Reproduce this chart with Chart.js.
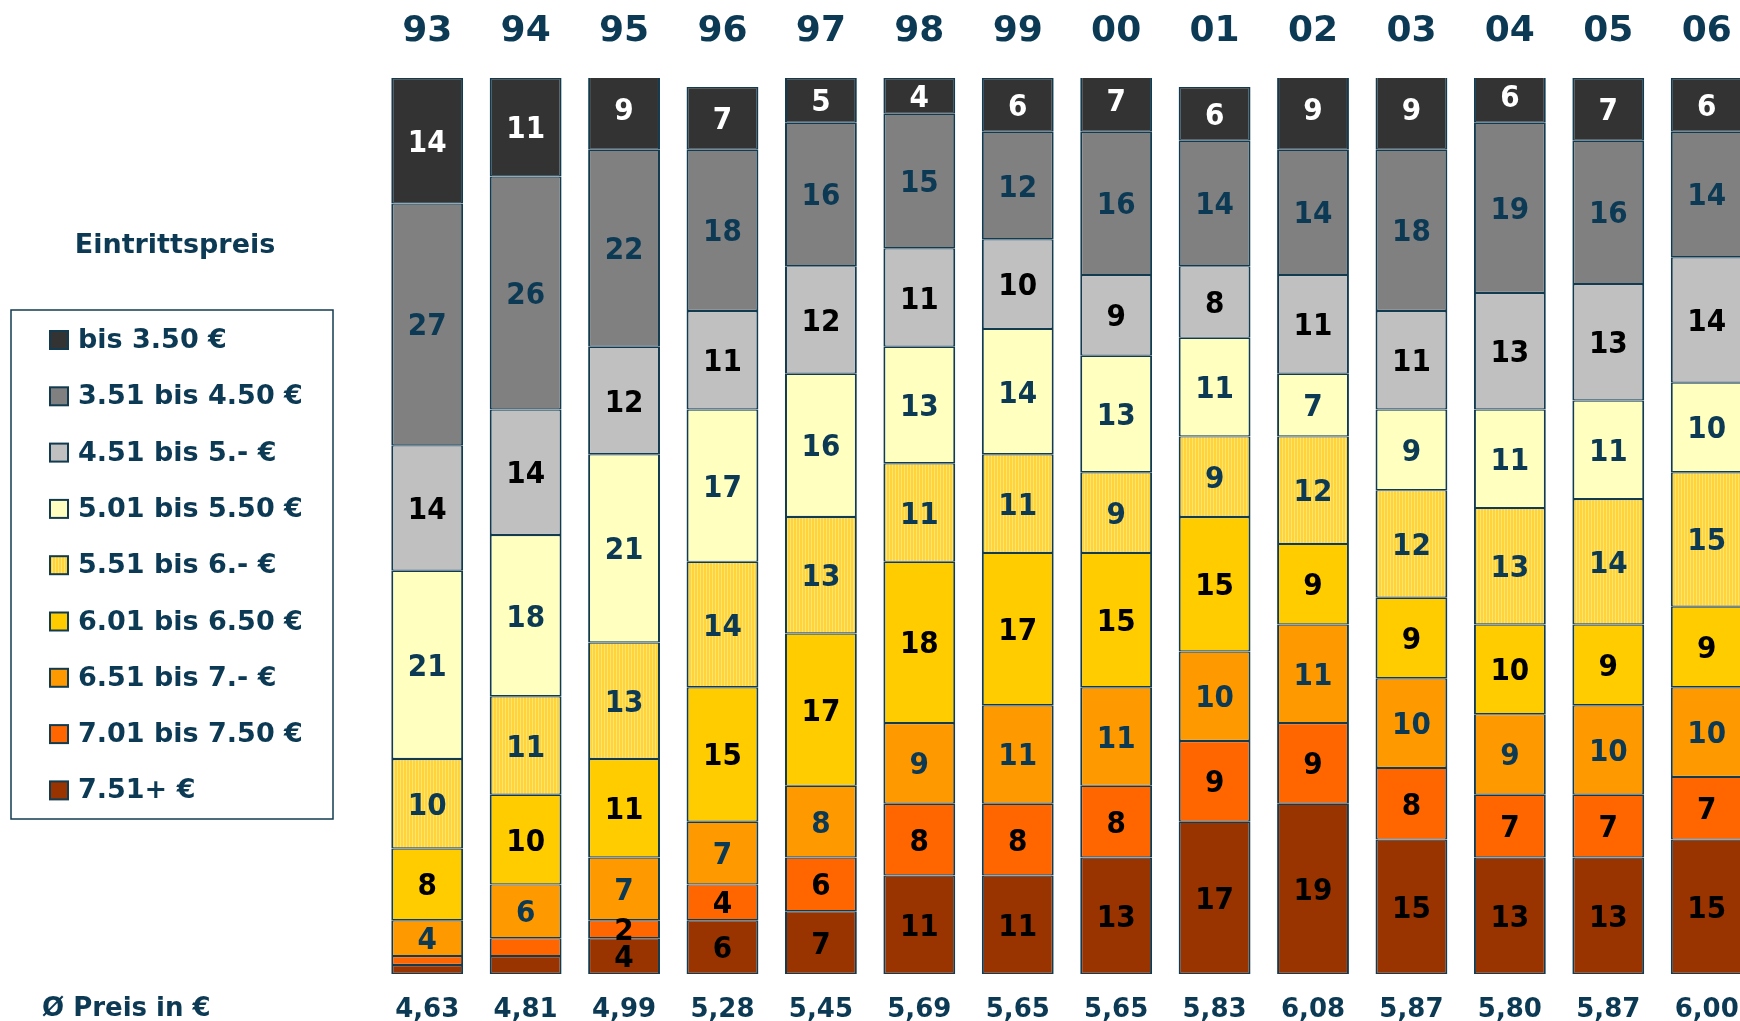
<!DOCTYPE html>
<html>
<head>
<meta charset="utf-8">
<title>Eintrittspreis</title>
<script src="https://cdn.jsdelivr.net/npm/chart.js@4.4.1/dist/chart.umd.min.js"></script>
<style>
  html, body { margin: 0; padding: 0; background: #fff; overflow: hidden; }
  canvas { display: block; }
</style>
</head>
<body>
<canvas id="eintritt" width="1762" height="1021"></canvas>
<script>
// Jahre und Durchschnittspreis je Jahr
const years = ['93', '94', '95', '96', '97', '98', '99', '00', '01', '02', '03', '04', '05', '06'];
const avgPrice = ['4,63', '4,81', '4,99', '5,28', '5,45', '5,69', '5,65', '5,65', '5,83', '6,08', '5,87', '5,80', '5,87', '6,00'];

// Preisklassen (Legende von oben nach unten)
const bands = ['bis 3.50 €', '3.51 bis 4.50 €', '4.51 bis 5.- €', '5.01 bis 5.50 €', '5.51 bis 6.- €',
               '6.01 bis 6.50 €', '6.51 bis 7.- €', '7.01 bis 7.50 €', '7.51+ €'];

// Anteile in % je Preisklasse
const upTo350   = [14, 11,  9,  7,  5,  4,  6,  7,  6,  9,  9,  6,  7,  6];
const from351   = [27, 26, 22, 18, 16, 15, 12, 16, 14, 14, 18, 19, 16, 14];
const from451   = [14, 14, 12, 11, 12, 11, 10,  9,  8, 11, 11, 13, 13, 14];
const from501   = [21, 18, 21, 17, 16, 13, 14, 13, 11,  7,  9, 11, 11, 10];
const from551   = [10, 11, 13, 14, 13, 11, 11,  9,  9, 12, 12, 13, 14, 15];
const from601   = [ 8, 10, 11, 15, 17, 18, 17, 15, 15,  9,  9, 10,  9,  9];
const from651   = [ 4,  6,  7,  7,  8,  9, 11, 11, 10, 11, 10,  9, 10, 10];
const from701   = [ 1,  2,  2,  4,  6,  8,  8,  8,  9,  9,  8,  7,  7,  7];
const from751   = [ 1,  2,  4,  6,  7, 11, 11, 13, 17, 19, 15, 13, 13, 15];

// Segmente ohne Zahl (Jahr-Index, Klassen-Index)
const unlabeled = [[0, 7], [0, 8], [1, 7], [1, 8]];

const NAVY = '#0c3a55';
const EDGE = '#123b50';

function stripes() {
    const c = document.createElement('canvas');
    c.width = 3; c.height = 1;
    const g = c.getContext('2d');
    g.fillStyle = '#ffd43a';
    g.fillRect(0, 0, 3, 1);
    g.fillStyle = '#ffe470';
    g.fillRect(1, 0, 1, 1);
    return g.createPattern(c, 'repeat');
}

const ctx = document.getElementById('eintritt').getContext('2d');

const fills = ['#333333', '#808080', '#c0c0c0', '#ffffc0', stripes(), '#ffcc00', '#ff9900', '#ff6600', '#993300'];
const inkColors = ['#ffffff', NAVY, '#000000', NAVY, NAVY, '#000000', NAVY, '#000000', '#000000'];
const series = [upTo350, from351, from451, from501, from551, from601, from651, from701, from751];

// Chart.js stapelt von unten nach oben, also umgekehrte Reihenfolge
const datasets = [];
for (let i = series.length - 1; i >= 0; i--) {
    datasets.push({
        label: bands[i],
        data: series[i],
        backgroundColor: fills[i],
        borderColor: EDGE,
        borderWidth: { left: 2, right: 2, top: 1.2, bottom: 1.2 },
        borderSkipped: false,
        band: i
    });
}

const drawExtras = {
    id: 'drawExtras',
    afterDatasetsDraw(chart) {
        const c = chart.ctx;
        c.save();

        // Zahlen in den Segmenten
        c.font = "bold 31px 'DejaVu Sans Condensed', 'Noto Sans', sans-serif";
        c.textAlign = 'center';
        c.textBaseline = 'alphabetic';
        chart.data.datasets.forEach((ds, di) => {
            const meta = chart.getDatasetMeta(di);
            meta.data.forEach((bar, j) => {
                if (unlabeled.some(u => u[0] === j && u[1] === ds.band)) return;
                const p = bar.getProps(['x', 'y', 'base'], true);
                c.fillStyle = inkColors[ds.band];
                c.fillText(String(ds.data[j]), p.x, (p.y + p.base) / 2 + 11);
            });
        });

        // Legende
        c.fillStyle = NAVY;
        c.font = "bold 27px 'DejaVu Sans', Verdana, sans-serif";
        c.textAlign = 'center';
        c.textBaseline = 'middle';
        c.fillText('Eintrittspreis', 175, 246);

        c.strokeStyle = EDGE;
        c.lineWidth = 1.5;
        c.strokeRect(11, 310, 322, 509);

        c.textAlign = 'left';
        bands.forEach((b, i) => {
            const y = 340 + i * 56.3;
            c.fillStyle = fills[i];
            c.fillRect(50, y - 9, 18, 18);
            c.strokeStyle = EDGE;
            c.lineWidth = 2;
            c.strokeRect(50, y - 9, 18, 18);
            c.fillStyle = NAVY;
            c.fillText(b, 78, y + 1);
        });

        c.font = "bold 26px 'DejaVu Sans', Verdana, sans-serif";
        c.fillText('Ø Preis in €', 42, 1009);
        c.restore();
    }
};

new Chart(ctx, {
    type: 'bar',
    data: {
        labels: years,
        datasets: datasets
    },
    options: {
        responsive: false,
        animation: false,
        barPercentage: 0.73,
        categoryPercentage: 1,
        layout: {
            padding: { left: 378, right: 2, top: 0, bottom: 0 }
        },
        scales: {
            x: {
                stacked: true,
                position: 'top',
                grid: { display: false, drawTicks: false },
                border: { display: false },
                ticks: {
                    color: NAVY,
                    padding: 28,
                    font: { family: "'DejaVu Sans', sans-serif", size: 36, weight: 'bold', lineHeight: 1 }
                },
                afterFit(scale) { scale.height = 78; }
            },
            xPrice: {
                type: 'category',
                labels: avgPrice,
                position: 'bottom',
                offset: true,
                grid: { display: false, drawTicks: false },
                border: { display: false },
                ticks: {
                    color: NAVY,
                    padding: 23,
                    font: { family: "'DejaVu Sans', sans-serif", size: 26, weight: 'bold', lineHeight: 1 }
                },
                afterFit(scale) { scale.height = 47; }
            },
            y: {
                stacked: true,
                display: false,
                min: 0,
                max: 100
            }
        },
        plugins: {
            legend: { display: false },
            tooltip: { enabled: false }
        }
    },
    plugins: [drawExtras]
});
</script>
</body>
</html>
